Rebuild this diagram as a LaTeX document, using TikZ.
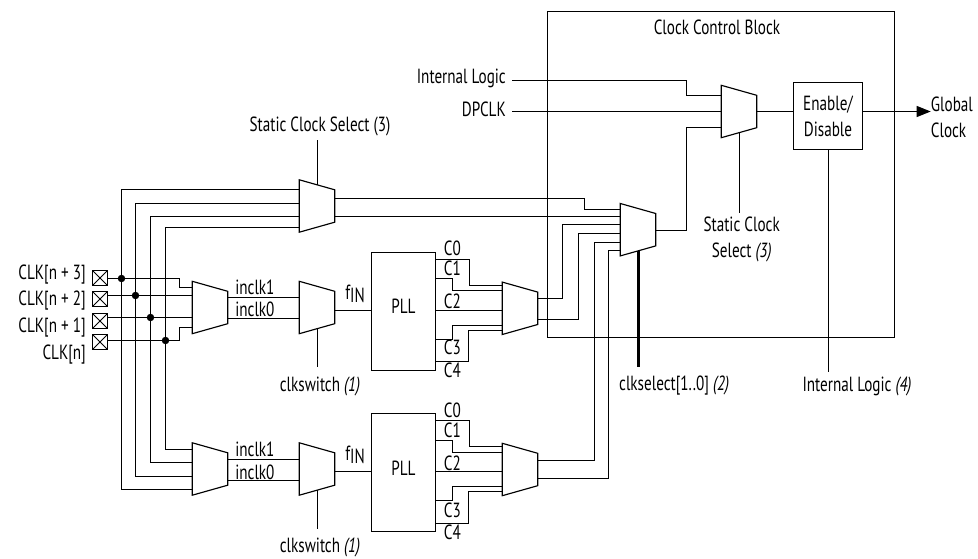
\documentclass[tikz,border=0pt]{standalone}
\usepackage{fontspec}
\setmainfont[FakeStretch=0.74]{PT Sans}
\usetikzlibrary{calc, arrows.meta}

\tikzset{
  wire/.style={line width=1.15pt, black},
  busthick/.style={line width=3.6pt, black},
  lbl/.style={inner sep=0pt, font=\fontsize{20.5}{26}\selectfont, align=center},
  muxnode/.style={inner sep=0pt, minimum width=35pt, minimum height=52pt},
  pllbox/.style={draw, line width=1.15pt, inner sep=0pt, minimum width=64pt, minimum height=118pt},
  dot/.style={circle, fill=black, inner sep=0pt, minimum size=7.5pt},
  clkpad/.style={draw, line width=1.15pt, inner sep=0pt, minimum size=15pt,
    path picture={\draw[line width=0.9pt] (path picture bounding box.north west) -- (path picture bounding box.south east)
      (path picture bounding box.north east) -- (path picture bounding box.south west);}}
}
\newcommand{\muxat}[3]{%
  \node[muxnode] (#1) at (#2,#3) {};
  \draw[wire, fill=white] (#1.north west) -- ($(#1.north east)+(0,10)$) -- ($(#1.south east)+(0,-10)$) -- (#1.south west) -- cycle;
  \coordinate (#1top) at ($(#1.north)+(0.5,5)$);
  \coordinate (#1bot) at ($(#1.south)+(0.5,-5)$);
}

\begin{document}
\begin{tikzpicture}[x=1pt, y=-1pt]
\useasboundingbox (0,0) rectangle (978,559);

% clock control block
\node[draw, line width=1.15pt, inner sep=0pt, minimum width=347pt, minimum height=326pt] (ccblock) at (721,174.5) {};
\node[lbl] (ccname) at (717,27) {Clock Control Block};

% muxes
\muxat{muxstat}{317}{206}
\muxat{muxinA}{210}{307.5}
\muxat{muxswA}{317}{307.5}
\muxat{muxoutA}{520}{308.3}
\muxat{muxinB}{210}{469}
\muxat{muxswB}{317}{469}
\muxat{muxoutB}{520}{469.5}
\muxat{muxsel}{638}{229.7}
\muxat{muxglob}{739}{111.5}

% plls and enable
\node[pllbox] (pllA) at (403.5,311.5) {};
\node[lbl] (pllAname) at (403.5,306.7) {PLL};
\node[pllbox] (pllB) at (403.5,472.5) {};
\node[lbl] (pllBname) at (403.5,468) {PLL};
\node[draw, line width=1.15pt, lbl, minimum width=69pt, minimum height=67pt] (enbox) at (828,116) {Enable/\\Disable};

% clock pads
\node[clkpad] (padn3) at (100,278) {};
\node[clkpad] (padn2) at (100,299) {};
\node[clkpad] (padn1) at (100,321) {};
\node[clkpad] (padn0) at (100,342) {};
\node[lbl, anchor=east] (lbln3) at (86,275) {CLK[n + 3]};
\node[lbl, anchor=east] (lbln2) at (86,301) {CLK[n + 2]};
\node[lbl, anchor=east] (lbln1) at (86,328) {CLK[n + 1]};
\node[lbl, anchor=east] (lbln0) at (86,355) {CLK[n]};

\node[dot] (dotn3) at (121.5,278.5) {};
\node[dot] (dotn2) at (135.5,295.5) {};
\node[dot] (dotn1) at (150.5,317.5) {};
\node[dot] (dotn0) at (165.5,340.5) {};

% inputs to first mux
\draw[wire] (padn3.east |- dotn3) -- (179.5,278.5) |- (muxinA.west |- 0,287.5);
\draw[wire] (padn2.east |- dotn2) -- (muxinA.west |- dotn2);
\draw[wire] (padn1.east |- dotn1) -- (muxinA.west |- dotn1);
\draw[wire] (padn0.east |- dotn0) -- (179.5,340.5) |- (muxinA.west |- 0,327.5);

% shared buses
\draw[wire] (muxstat.west |- 0,189.5) -| (dotn3) |- (muxinB.west |- 0,489.5);
\draw[wire] (muxstat.west |- 0,203.5) -| (dotn2) |- (muxinB.west |- 0,476.5);
\draw[wire] (muxstat.west |- 0,216.5) -| (dotn1) |- (muxinB.west |- 0,462.5);
\draw[wire] (muxstat.west |- 0,227.5) -| (dotn0) |- (muxinB.west |- 0,449.5);

% inclk
\draw[wire] (muxinA.east |- 0,297.5) -- node[lbl, pos=0.38, yshift=10.4pt] (inclkAa) {inclk1} (muxswA.west |- 0,297.5);
\draw[wire] (muxinA.east |- 0,318.5) -- node[lbl, pos=0.38, yshift=8.7pt] (inclkAb) {inclk0} (muxswA.west |- 0,318.5);
\draw[wire] (muxinB.east |- 0,459.5) -- node[lbl, pos=0.38, yshift=9.7pt] (inclkBa) {inclk1} (muxswB.west |- 0,459.5);
\draw[wire] (muxinB.east |- 0,480.5) -- node[lbl, pos=0.38, yshift=7.7pt] (inclkBb) {inclk0} (muxswB.west |- 0,480.5);

% fIN
\draw[wire] (muxswA.east |- 0,310.5) -- (pllA.west |- 0,310.5);
\draw[wire] (muxswB.east |- 0,471.5) -- (pllB.west |- 0,471.5);
\node[lbl] (finA) at (355,294) {f\raisebox{-3pt}{IN}};
\node[lbl] (finB) at (355,455) {f\raisebox{-3pt}{IN}};

% pll outputs, upper
\draw[wire] (pllA.east |- 0,259.5) -| (469.5,285.5) -- (muxoutA.west |- 0,285.5);
\draw[wire] (pllA.east |- 0,278.5) -| (452.5,290.5) -- (muxoutA.west |- 0,290.5);
\draw[wire] (pllA.east |- 0,310.5) -- (muxoutA.west |- 0,310.5);
\draw[wire] (pllA.east |- 0,339.5) -| (452.5,325.5) -- (muxoutA.west |- 0,325.5);
\draw[wire] (pllA.east |- 0,361.5) -| (468.5,330.5) -- (muxoutA.west |- 0,330.5);
\node[lbl] (cAa) at (452.3,248.7) {C0};
\node[lbl] (cAb) at (452.3,268.3) {C1};
\node[lbl] (cAc) at (452.3,301) {C2};
\node[lbl] (cAd) at (452.3,347.7) {C3};
\node[lbl] (cAe) at (452.3,370.3) {C4};

% pll outputs, lower
\draw[wire] (pllB.east |- 0,420.5) -| (469.5,446.5) -- (muxoutB.west |- 0,446.5);
\draw[wire] (pllB.east |- 0,440.5) -| (452.5,452.5) -- (muxoutB.west |- 0,452.5);
\draw[wire] (pllB.east |- 0,471.5) -- (muxoutB.west |- 0,471.5);
\draw[wire] (pllB.east |- 0,500.5) -| (452.5,486.5) -- (muxoutB.west |- 0,486.5);
\draw[wire] (pllB.east |- 0,523.5) -| (468.5,491.5) -- (muxoutB.west |- 0,491.5);
\node[lbl] (cBa) at (452.3,410) {C0};
\node[lbl] (cBb) at (452.3,430) {C1};
\node[lbl] (cBc) at (452.3,463.3) {C2};
\node[lbl] (cBd) at (452.3,510) {C3};
\node[lbl] (cBe) at (452.3,532.7) {C4};

% into select mux
\draw[wire] (muxstat.east |- 0,198.5) -| (584.5,209.5) -- (muxsel.west |- 0,209.5);
\draw[wire] (muxstat.east |- 0,216.5) -- (muxsel.west |- 0,216.5);
\draw[wire] (muxoutA.east |- 0,298.5) -| (562.5,224.5) -- (muxsel.west |- 0,224.5);
\draw[wire] (muxoutA.east |- 0,319.5) -| (578.5,233.5) -- (muxsel.west |- 0,233.5);
\draw[wire] (muxoutB.east |- 0,460.5) -| (594.5,242.5) -- (muxsel.west |- 0,242.5);
\draw[wire] (muxoutB.east |- 0,478.5) -| (608.5,250.5) -- (muxsel.west |- 0,250.5);

% top mux and output
\node[lbl, anchor=east] (intlogic) at (506,78) {Internal Logic};
\node[lbl, anchor=east] (dpclk) at (506,109) {DPCLK};
\draw[wire] (512,80.5) -| (686.5,95.5) -- (muxglob.west |- 0,95.5);
\draw[wire] (512,111.5) -- (muxglob.west |- 0,111.5);
\draw[wire] (muxsel.east |- 0,230.5) -| (686.5,127.5) -- (muxglob.west |- 0,127.5);
\draw[wire] (muxglob.east) -- (enbox.west |- muxglob.east);
\node[lbl, align=left, anchor=west] (glclk) at (930.7,117.5) {Global\\Clock};
\draw[wire, -{Triangle[length=14pt, width=11pt]}] (enbox.east |- 0,111.5) -- (glclk.west |- 0,111.5);

% select stems
\node[lbl] (statAname) at (320,126) {Static Clock Select (3)};
\draw[wire] (muxstattop) -- (muxstattop |- 0,140);
\node[lbl] (statBname) at (741.7,239.5) {Static Clock\\Select \textit{(3)}};
\draw[wire] (muxglobbot) -- (muxglobbot |- 0,212.7);
\draw[busthick] (muxselbot) -- (muxselbot |- 0,367);
\node[lbl, anchor=west] (selname) at (619,385.5) {clkselect[1..0] \textit{(2)}};
\draw[wire] ([xshift=0.5pt]enbox.south) -- ([xshift=0.5pt]enbox.south |- 0,372);
\node[lbl] (intlogicb) at (857,386) {Internal Logic \textit{(4)}};
\draw[wire] (muxswAbot) -- (muxswAbot |- 0,367);
\node[lbl] (swAname) at (320,386) {clkswitch \textit{(1)}};
\draw[wire] (muxswBbot) -- (muxswBbot |- 0,528.5);
\node[lbl] (swBname) at (320,547) {clkswitch \textit{(1)}};
\end{tikzpicture}
\end{document}
